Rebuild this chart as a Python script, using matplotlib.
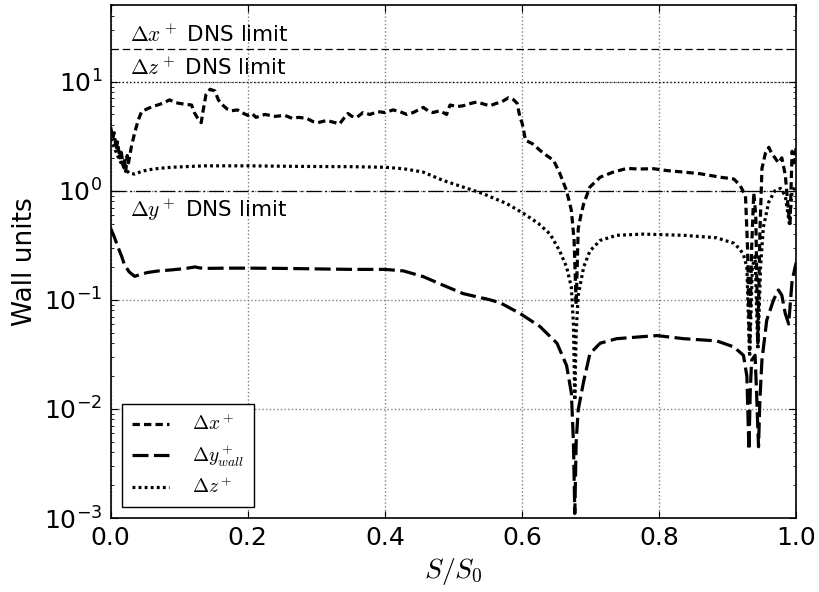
import numpy as np
import matplotlib
matplotlib.use("Agg")
import matplotlib.pyplot as plt
from matplotlib.ticker import FuncFormatter, LogLocator, FixedLocator

plt.rcParams['mathtext.fontset'] = 'cm'
plt.rcParams['font.family'] = ['DejaVu Sans']

# Streamwise spacing along the surface
dx_s = [0.000, 0.003, 0.005, 0.008, 0.010, 0.013, 0.015, 0.018, 0.020, 0.022,
        0.024, 0.026, 0.030, 0.035, 0.040, 0.045, 0.055, 0.065, 0.075, 0.086,
        0.095, 0.108, 0.118, 0.122, 0.127, 0.132, 0.135, 0.139, 0.145, 0.152,
        0.157, 0.162, 0.170, 0.176, 0.185, 0.191, 0.200, 0.206, 0.212, 0.225,
        0.240, 0.254, 0.265, 0.274, 0.286, 0.295, 0.302, 0.315, 0.334, 0.340,
        0.346, 0.352, 0.359, 0.368, 0.378, 0.390, 0.400, 0.412, 0.422, 0.432,
        0.441, 0.456, 0.463, 0.470, 0.480, 0.490, 0.495, 0.505, 0.514, 0.525,
        0.534, 0.545, 0.553, 0.562, 0.570, 0.580, 0.588, 0.593, 0.597, 0.600,
        0.602, 0.605, 0.615, 0.626, 0.636, 0.646, 0.655, 0.665, 0.672, 0.676,
        0.679, 0.682, 0.686, 0.690, 0.699, 0.714, 0.733, 0.753, 0.770, 0.792,
        0.811, 0.836, 0.860, 0.889, 0.909, 0.918, 0.926, 0.929, 0.932, 0.935,
        0.938, 0.941, 0.944, 0.947, 0.950, 0.955, 0.960, 0.964, 0.969, 0.974,
        0.979, 0.984, 0.989, 0.991, 0.994, 0.997, 1.000]
dx_v = [3.8, 3.0, 3.4, 2.4, 2.8, 2.0, 2.4, 1.7, 2.0, 1.5,
        2.1, 1.8, 2.5, 3.4, 4.4, 5.3, 5.7, 6.0, 6.3, 6.8,
        6.4, 6.2, 6.1, 5.2, 4.6, 4.2, 5.5, 7.6, 8.5, 8.2,
        6.8, 6.2, 5.6, 5.4, 5.5, 5.2, 4.9, 5.1, 4.7, 5.0,
        4.8, 4.9, 4.6, 4.7, 4.6, 4.3, 4.2, 4.4, 4.1, 4.6,
        5.1, 4.8, 4.7, 5.2, 5.0, 5.3, 5.2, 5.5, 5.3, 5.0,
        5.2, 5.8, 5.4, 5.2, 5.4, 5.0, 6.1, 5.9, 6.0, 6.3,
        6.5, 6.2, 6.0, 6.3, 6.5, 7.1, 6.8, 6.3, 4.7, 4.2,
        3.7, 2.9, 2.7, 2.35, 2.1, 1.9, 1.45, 1.0, 0.66, 0.35,
        0.09, 0.45, 0.6, 0.76, 1.08, 1.33, 1.48, 1.6, 1.58, 1.59,
        1.53, 1.48, 1.43, 1.33, 1.28, 1.12, 0.9, 0.3, 0.035, 0.3,
        0.95, 0.6, 0.04, 0.4, 1.6, 2.2, 2.5, 2.2, 2.0, 1.8,
        2.0, 1.4, 0.62, 0.5, 2.3, 1.8, 2.5]

# First cell height at the wall
dy_s = [0.000, 0.005, 0.011, 0.016, 0.020, 0.027, 0.035, 0.045, 0.054, 0.070,
        0.089, 0.110, 0.123, 0.130, 0.137, 0.170, 0.200, 0.250, 0.300, 0.350,
        0.400, 0.427, 0.456, 0.485, 0.514, 0.553, 0.568, 0.597, 0.626, 0.651,
        0.665, 0.672, 0.675, 0.677, 0.679, 0.682, 0.690, 0.699, 0.714, 0.738,
        0.777, 0.797, 0.836, 0.884, 0.909, 0.923, 0.928, 0.931, 0.933, 0.935,
        0.940, 0.942, 0.945, 0.947, 0.950, 0.957, 0.967, 0.974, 0.979, 0.984,
        0.989, 0.994, 1.000]
dy_v = [0.45, 0.38, 0.30, 0.25, 0.21, 0.18, 0.164, 0.172, 0.178, 0.184,
        0.188, 0.194, 0.2, 0.196, 0.194, 0.195, 0.195, 0.194, 0.192, 0.19,
        0.19, 0.184, 0.163, 0.136, 0.114, 0.1, 0.094, 0.075, 0.057, 0.04,
        0.025, 0.014, 0.005, 0.0011, 0.005, 0.0098, 0.018, 0.032, 0.04, 0.044,
        0.046, 0.047, 0.044, 0.042, 0.037, 0.031, 0.02, 0.0042, 0.015, 0.028,
        0.031, 0.015, 0.0045, 0.012, 0.028, 0.065, 0.1, 0.123, 0.11, 0.075,
        0.06, 0.15, 0.22]

# Spanwise spacing
dz_s = [0.000, 0.005, 0.010, 0.015, 0.020, 0.027, 0.035, 0.045, 0.054, 0.070,
        0.089, 0.137, 0.200, 0.274, 0.350, 0.400, 0.427, 0.456, 0.485, 0.514,
        0.543, 0.578, 0.602, 0.624, 0.641, 0.655, 0.665, 0.672, 0.675, 0.677,
        0.679, 0.682, 0.690, 0.699, 0.714, 0.738, 0.777, 0.836, 0.884, 0.909,
        0.918, 0.923, 0.928, 0.932, 0.936, 0.940, 0.944, 0.948, 0.952, 0.960,
        0.969, 0.977, 0.984, 0.990, 0.994, 1.000]
dz_v = [3.0, 2.5, 2.1, 1.8, 1.6, 1.45, 1.42, 1.5, 1.55, 1.6,
        1.64, 1.69, 1.69, 1.67, 1.66, 1.64, 1.59, 1.48, 1.24, 1.08,
        0.94, 0.76, 0.62, 0.5, 0.4, 0.28, 0.2, 0.13, 0.06, 0.012,
        0.05, 0.11, 0.2, 0.28, 0.35, 0.39, 0.4, 0.39, 0.37, 0.33,
        0.29, 0.26, 0.2, 0.03, 0.2, 0.25, 0.035, 0.2, 0.46, 0.79,
        1.0, 1.05, 0.9, 0.5, 1.0, 1.1]

# DNS resolution limits
dx_limit = 20.0
dz_limit = 10.0
dy_limit = 1.0

fig = plt.figure(figsize=(8.2, 5.92), dpi=100)
ax = fig.add_axes([0.135, 0.125, 0.836, 0.866])

ax.plot(dx_s, dx_v, color='k', lw=2.3, dashes=(2.3, 1.3), label=r'$\Delta x^+$')
ax.plot(dy_s, dy_v, color='k', lw=2.3, dashes=(5, 1.7), label=r'$\Delta y^+_{wall}$')
ax.plot(dz_s, dz_v, color='k', lw=2.3, dashes=(0.9, 1.0), label=r'$\Delta z^+$')

ax.axhline(dx_limit, color='k', lw=0.9, dashes=(6, 3))
ax.axhline(dz_limit, color='k', lw=0.9, dashes=(1, 2))
ax.axhline(dy_limit, color='k', lw=0.9, dashes=(12, 3, 1.5, 3))

ax.text(0.028, 21.0, r'$\Delta x^+$ DNS limit', fontsize=15.5, va='bottom')
ax.text(0.028, 10.5, r'$\Delta z^+$ DNS limit', fontsize=15.5, va='bottom')
ax.text(0.028, 0.88, r'$\Delta y^+$ DNS limit', fontsize=15.5, va='top')

ax.set_yscale('log')
ax.set_xlim(0, 1)
ax.set_ylim(1e-3, 50)

ax.xaxis.set_major_locator(FixedLocator([0.0, 0.2, 0.4, 0.6, 0.8, 1.0]))
ax.xaxis.set_major_formatter(FuncFormatter(lambda v, p: '%.1f' % v))
ax.yaxis.set_major_locator(LogLocator(base=10, numticks=10))
ax.yaxis.set_minor_locator(LogLocator(base=10, subs=np.arange(2, 10), numticks=20))
ax.yaxis.set_major_formatter(FuncFormatter(lambda v, p: r'$\mathregular{10^{%d}}$' % round(np.log10(v))))

ax.tick_params(which='both', direction='in', top=True, right=True, labelsize=18)
ax.tick_params(which='major', length=5, width=0.8, pad=6)
ax.tick_params(which='minor', length=2.5, width=0.6)
for sp in ax.spines.values():
    sp.set_linewidth(1.2)

ax.grid(True, which='major', color='0.5', ls=':', lw=1)

ax.set_xlabel(r'$S/S_0$', fontsize=20)
ax.set_ylabel('Wall units', fontsize=19)

leg = ax.legend(loc='lower left', fontsize=14, fancybox=False, framealpha=1,
                edgecolor='k', handlelength=1.9, handletextpad=1.2,
                borderaxespad=0.3, bbox_to_anchor=(0.008, 0.01),
                labelspacing=0.4, borderpad=0.5)
leg.get_frame().set_linewidth(1)

fig.savefig('out.png', dpi=100)
